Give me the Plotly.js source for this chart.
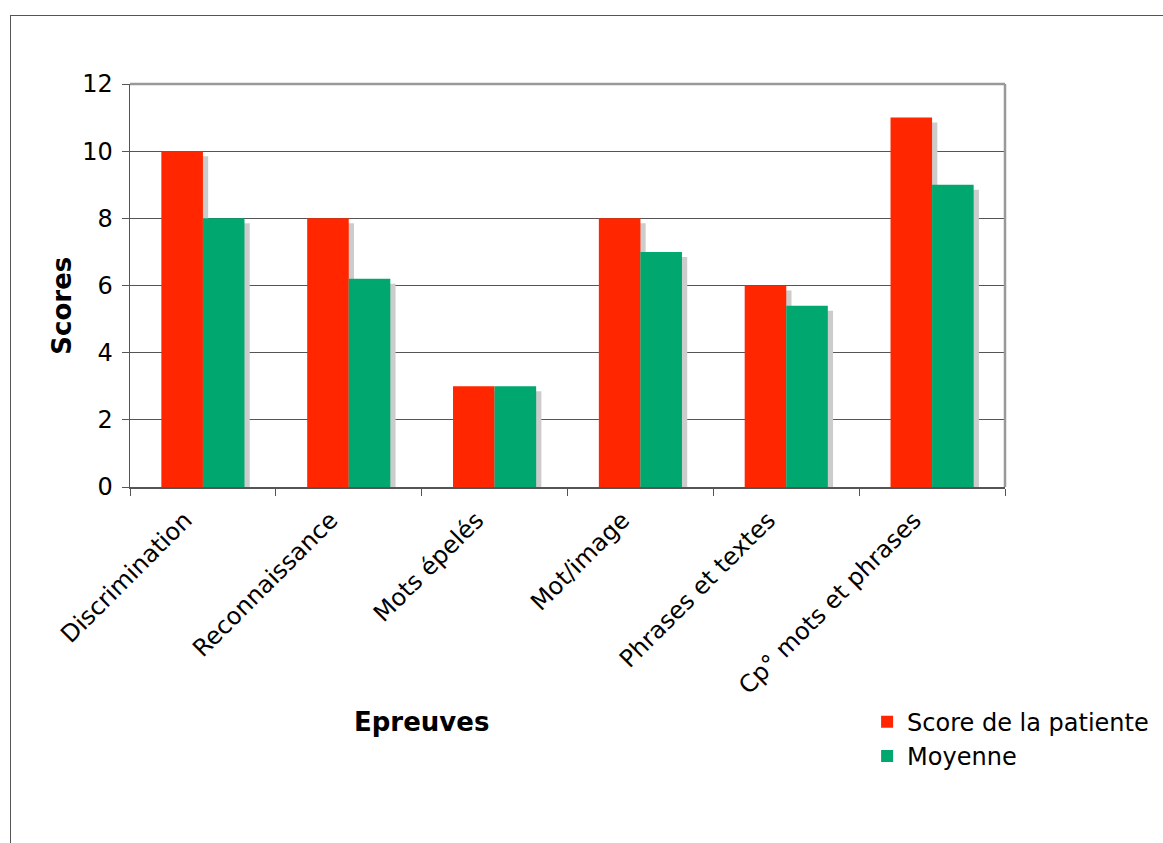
<!DOCTYPE html>
<html>
<head>
<meta charset="utf-8">
<script src="https://cdn.plot.ly/plotly-3.0.1.min.js"></script>
<style>
  html, body { margin: 0; padding: 0; background: #fff; overflow: hidden; }
  #chart { position: absolute; left: 0; top: 0; width: 1163px; height: 843px; }
  #frame { position: absolute; left: 10px; top: 15px; width: 1153px; height: 828px;
           border-top: 1.5px solid #555; border-left: 1.5px solid #555; pointer-events: none; box-sizing: border-box; }
</style>
</head>
<body>
<div id="chart"></div>
<div id="frame"></div>
<script>
// Data
const categories = ["Discrimination", "Reconnaissance", "Mots épelés", "Mot/image", "Phrases et textes", "Cp° mots et phrases"];
const scorePatiente = [10, 8, 3, 8, 6, 11];
const moyenne = [8, 6.2, 3, 7, 5.4, 9];
const seriesNames = ["Score de la patiente", "Moyenne"];
const yTicks = [0, 2, 4, 6, 8, 10, 12];

// Styling constants
const RED = "#ff2600";
const GREEN = "#00a86f";
const SHADOW = "#cccccc";
const BAR_W = 0.285;
const SH_DX = 0.036;
const SH_BASE = -0.15;
const FONT = "DejaVu Sans, Verdana, sans-serif";

const shadowRed = {
  type: "bar", x: categories, y: scorePatiente, base: SH_BASE,
  width: BAR_W, offset: -BAR_W + SH_DX,
  marker: { color: SHADOW }, showlegend: false, hoverinfo: "skip"
};
const shadowGreen = {
  type: "bar", x: categories, y: moyenne, base: SH_BASE,
  width: BAR_W, offset: SH_DX,
  marker: { color: SHADOW }, showlegend: false, hoverinfo: "skip"
};
const redTrace = {
  type: "bar", name: seriesNames[0], x: categories, y: scorePatiente,
  width: BAR_W, offset: -BAR_W, marker: { color: RED }
};
const greenTrace = {
  type: "bar", name: seriesNames[1], x: categories, y: moyenne,
  width: BAR_W, offset: 0, marker: { color: GREEN }
};

const layout = {
  width: 1163, height: 843,
  margin: { l: 130, r: 158, t: 84, b: 356, autoexpand: false },
  paper_bgcolor: "#ffffff",
  plot_bgcolor: "#ffffff",
  barmode: "overlay",
  font: { family: FONT, size: 24, color: "#000" },
  showlegend: true,
  legend: {
    x: 0.8424, xanchor: "left", y: -0.5276, yanchor: "top",
    font: { family: FONT, size: 24, color: "#000" },
    entrywidth: 220, entrywidthmode: "pixels",
    bgcolor: "rgba(0,0,0,0)", traceorder: "normal", tracegroupgap: 0
  },
  xaxis: {
    type: "category",
    tickangle: -45,
    tickson: "boundaries",
    ticks: "outside", ticklen: 7, tickcolor: "#555", tickwidth: 1,
    ticklabelshift: -18,
    ticklabelstandoff: 8,
    showline: true, linecolor: "#555", linewidth: 1.5,
    showgrid: false,
    tickfont: { family: FONT, size: 24, color: "#000" },
    fixedrange: true
  },
  yaxis: {
    range: [0, 12],
    tickvals: yTicks,
    ticktext: yTicks.map(String),
    ticks: "outside", ticklen: 7, tickcolor: "#555", tickwidth: 1,
    ticklabelstandoff: 4,
    showline: true, linecolor: "#555", linewidth: 1.5,
    showgrid: true, gridcolor: "#555", gridwidth: 1,
    zeroline: false,
    tickfont: { family: FONT, size: 24, color: "#000" },
    fixedrange: true
  },
  shapes: [
    { type: "line", xref: "paper", yref: "paper", x0: 0, x1: 1, y0: 1, y1: 1,
      line: { color: "#999", width: 2.5 } },
    { type: "line", xref: "paper", yref: "paper", x0: 1, x1: 1, y0: 0, y1: 1,
      line: { color: "#999", width: 2.5 } }
  ],
  annotations: [
    { text: "<b>Epreuves</b>", xref: "paper", yref: "paper", x: 0.333, y: -0.583,
      xanchor: "center", yanchor: "middle", showarrow: false,
      font: { family: FONT, size: 26, color: "#000" } },
    { text: "<b>Scores</b>", xref: "paper", yref: "paper", x: -0.0777, y: 0.45,
      xanchor: "center", yanchor: "middle", textangle: -90, showarrow: false,
      font: { family: FONT, size: 26, color: "#000" } }
  ]
};

Plotly.newPlot("chart", [shadowRed, shadowGreen, redTrace, greenTrace], layout, { displayModeBar: false, staticPlot: true });
</script>
</body>
</html>
